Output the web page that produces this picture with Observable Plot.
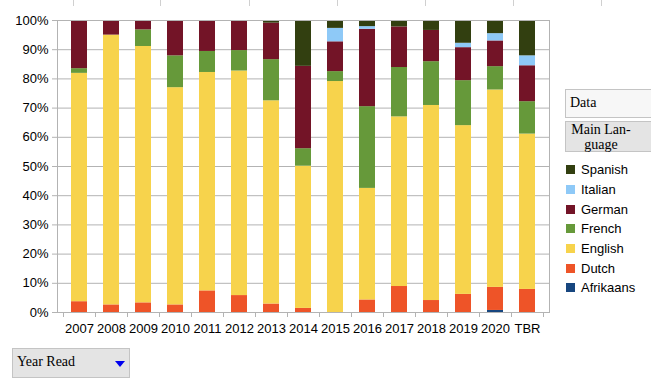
<!DOCTYPE html>
<html>
<head>
<meta charset="utf-8">
<script src="https://cdn.jsdelivr.net/npm/d3@7"></script>
<script src="https://cdn.jsdelivr.net/npm/@observablehq/plot@0.6"></script>
<style>
  html, body { margin: 0; padding: 0; background: #fff; }
  #wrap { position: relative; width: 651px; height: 379px; overflow: hidden; font-family: "Liberation Sans", Arial, sans-serif; }
  #chart { position: absolute; left: 0; top: 0; }
  .colmark { position: absolute; top: 0; width: 1px; height: 6px; background: #d0d0d0; }
  .legend { position: absolute; left: 566px; top: 160px; font-size: 13px; color: #000; }
  .legend .item { height: 19.7px; display: flex; align-items: center; }
  .legend .sw { width: 9px; height: 9px; margin-right: 6px; box-sizing: border-box; }
  .btn { position: absolute; box-sizing: border-box; border: 1px solid #c4c4c4; font-family: "Liberation Serif", "DejaVu Serif", serif; font-size: 14px; color: #000; }
</style>
</head>
<body>
<div id="wrap">
  <div id="chart"></div>
</div>
<script>
const years = ["2007","2008","2009","2010","2011","2012","2013","2014","2015","2016","2017","2018","2019","2020","TBR"];
const languages = ["Afrikaans","Dutch","English","French","German","Italian","Spanish"];
const colors = ["#17467f","#ee5428","#f7d34c","#66993a","#731427","#8ec9f7","#323f10"];
const afrikaans = [0,0,0,0,0,0,0,0,0,0,0,0,0,0.7,0];
const dutch     = [3.7,2.6,3.3,2.6,7.4,5.8,2.9,1.4,0,4.3,8.9,4.1,6.2,7.9,7.9];
const english   = [78.2,92.4,87.8,74.4,74.8,76.9,69.6,48.7,79.1,38.2,58.1,66.8,57.8,67.6,53.2];
const french    = [1.6,0,5.7,10.9,7.2,7.0,14.1,6.0,3.4,28.0,16.9,15.0,15.4,8.0,11.1];
const german    = [16.5,5.0,3.2,12.1,10.6,10.3,12.5,28.2,10.2,26.5,13.9,10.7,11.3,8.8,12.3];
const italian   = [0,0,0,0,0,0,0,0,4.6,0.9,0,0,1.5,2.5,3.4];
const spanish   = [0,0,0,0,0,0,0.9,15.7,2.7,2.1,2.2,3.4,7.8,4.5,12.1];
const yTicks = [0,0.1,0.2,0.3,0.4,0.5,0.6,0.7,0.8,0.9,1];
const legendOrder = ["Spanish","Italian","German","French","English","Dutch","Afrikaans"];

const series = [afrikaans, dutch, english, french, german, italian, spanish];
const data = [];
languages.forEach((lang, li) => {
  years.forEach((yr, i) => data.push({year: yr, lang, value: series[li][i]}));
});

// tick marks at category boundaries, positioned with the x scale
function boundaryTicks(index, scales, values, dims) {
  const x = scales.x, y = scales.y;
  const step = x(years[1]) - x(years[0]);
  let bw = typeof x.bandwidth === "function" ? x.bandwidth() : x.bandwidth;
  if (bw == null || isNaN(bw)) bw = step / 2;
  const gap = (step - bw) / 2;
  const y0 = y(0);
  const g = d3.create("svg:g").attr("stroke", "#b3b3b3").attr("stroke-width", 1);
  const xs = years.map(yr => x(yr) - gap);
  xs.push(x(years[years.length - 1]) + bw + gap);
  for (const xv of xs) {
    const xr = Math.round(xv) + 0.5;
    g.append("line").attr("x1", xr).attr("x2", xr).attr("y1", y0).attr("y2", y0 + 5);
  }
  return g.node();
}

const chart = Plot.plot({
  width: 560,
  height: 345,
  marginLeft: 57,
  marginRight: 11,
  marginTop: 20,
  marginBottom: 33,
  style: {fontFamily: "'Liberation Sans', Arial, sans-serif", fontSize: "13px", color: "#000", background: "transparent"},
  x: {domain: years, paddingInner: 0.5, paddingOuter: 0.25, label: null},
  y: {domain: [0, 1], label: null},
  color: {domain: languages, range: colors},
  marks: [
    Plot.gridY(yTicks, {stroke: "#b3b3b3", strokeOpacity: 1}),
    Plot.barY(data, {x: "year", y: "value", fill: "lang", order: languages, offset: "normalize"}),
    Plot.frame({stroke: "#b3b3b3"}),
    Plot.axisY(yTicks, {tickFormat: d3.format(".0%"), tickSize: 5, tickPadding: 4, stroke: "#b3b3b3", fill: "#000", fontSize: 13, label: null}),
    Plot.axisX({tickSize: 0, tickPadding: 11, fill: "#000", fontSize: 13, label: null}),
    boundaryTicks
  ]
});
document.getElementById("chart").appendChild(chart);

const wrap = document.getElementById("wrap");
// spreadsheet column marks at the top edge
[73,160,249,337,425,513,601].forEach(px => {
  const d = document.createElement("div");
  d.className = "colmark"; d.style.left = px + "px"; wrap.appendChild(d);
});

// pivot field buttons
function addBtn(html, css) {
  const d = document.createElement("div");
  d.className = "btn"; d.innerHTML = html; Object.assign(d.style, css); wrap.appendChild(d);
  return d;
}
addBtn("Data", {left: "565px", top: "89px", width: "100px", height: "29px", background: "#f7f7f7", padding: "5px 0 0 4px"});
addBtn('<div style="width:70px;text-align:center;line-height:15px">Main Lan-<br>guage</div>',
  {left: "565px", top: "121px", width: "100px", height: "31px", background: "#e4e4e4", padding: "0 0 0 0"});
addBtn('Year Read<svg width="10" height="6" style="position:absolute;left:102px;top:12px"><path d="M0,0H10L5,6Z" fill="#0000ee"/></svg>',
  {left: "12px", top: "348px", width: "118px", height: "30px", background: "#e4e4e4", padding: "5px 0 0 4px"});

// legend
const legend = document.createElement("div");
legend.className = "legend";
legendOrder.forEach(lang => {
  const it = document.createElement("div");
  it.className = "item";
  const sw = document.createElement("span");
  sw.className = "sw";
  sw.style.background = colors[languages.indexOf(lang)];
  const lb = document.createElement("span");
  lb.textContent = lang;
  it.appendChild(sw); it.appendChild(lb);
  legend.appendChild(it);
});
wrap.appendChild(legend);
</script>
</body>
</html>
